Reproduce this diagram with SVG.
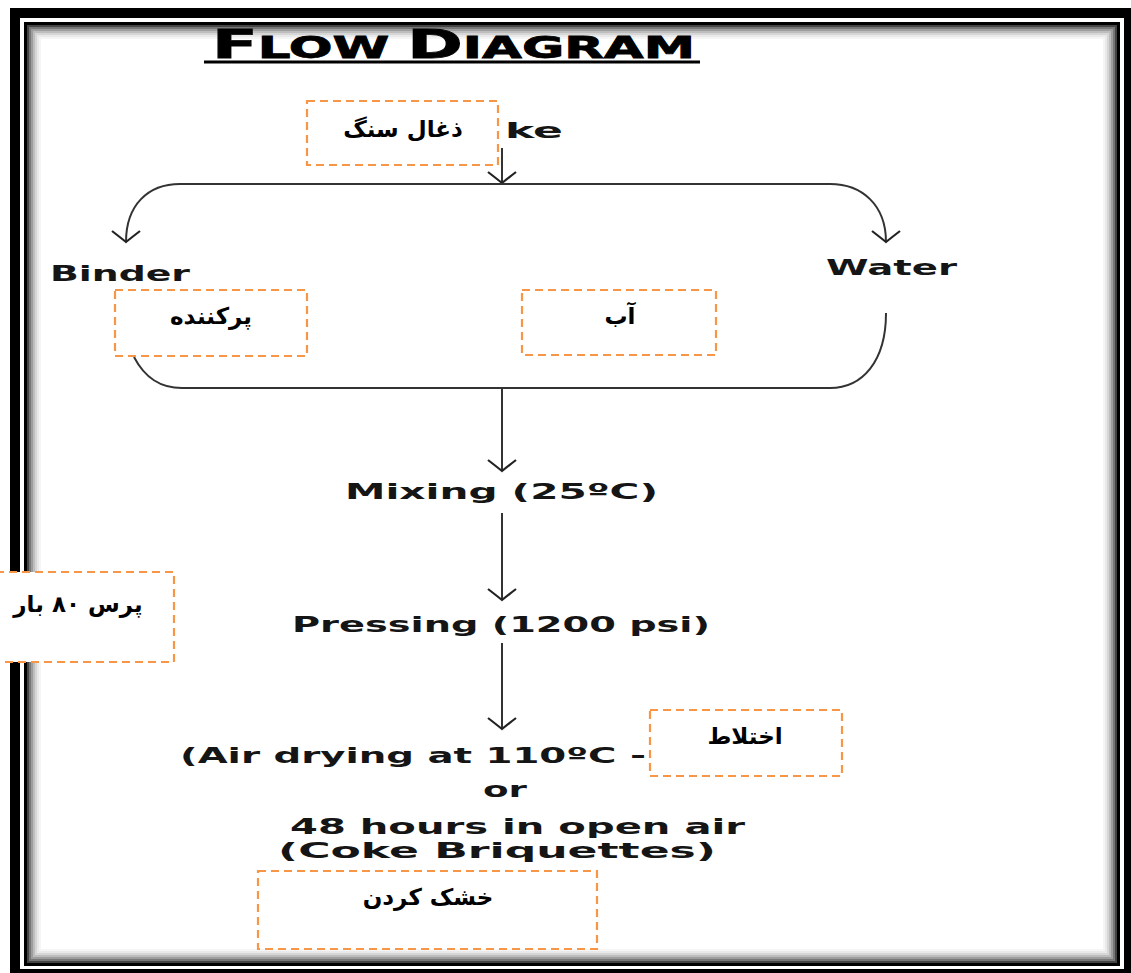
<svg xmlns="http://www.w3.org/2000/svg" width="1131" height="973" viewBox="0 0 1131 973">
<style>
.en{font-family:"DejaVu Sans","Liberation Sans",sans-serif;font-weight:bold;fill:#151515;font-size:21px}
.fa{font-family:"DejaVu Sans","Liberation Sans",sans-serif;font-weight:bold;fill:#000;font-size:23px;text-anchor:middle}
.box{fill:#fff;stroke:#f79646;stroke-width:2.2;stroke-dasharray:8 5}
.con{fill:none;stroke:#333;stroke-width:2}
.sh{fill:none}
</style>
<defs>
<marker id="ah" markerUnits="userSpaceOnUse" markerWidth="24" markerHeight="34" refX="20" refY="17" orient="auto" viewBox="0 0 24 34">
<path d="M 9 3 Q 16 12 20 17 Q 16 22 9 31" fill="none" stroke="#222" stroke-width="2.2"/>
</marker>
</defs>
<rect width="1131" height="973" fill="#fff"/>
<g id="frame">
<rect x="10" y="8" width="1125" height="970" fill="#000"/>
<rect x="20" y="18" width="1104" height="951" fill="#fff"/>
<rect x="24" y="22" width="1096" height="944" fill="#000"/>
<rect x="27" y="25" width="1090" height="938" fill="#fff"/>
<rect class="sh" x="28" y="26" width="1088" height="936" stroke="#444" stroke-width="2"/>
<rect class="sh" x="30" y="28" width="1084" height="932" stroke="#777" stroke-width="2"/>
<rect class="sh" x="32" y="30" width="1080" height="928" stroke="#9d9d9d" stroke-width="2"/>
<rect class="sh" x="34" y="32" width="1076" height="924" stroke="#bdbdbd" stroke-width="2"/>
<rect class="sh" x="36" y="34" width="1072" height="920" stroke="#d6d6d6" stroke-width="2"/>
<rect class="sh" x="38" y="36" width="1068" height="916" stroke="#e9e9e9" stroke-width="2"/>
<rect class="sh" x="40" y="38" width="1064" height="912" stroke="#f5f5f5" stroke-width="2"/>
</g>
<g id="title">
<text class="en" x="212" y="58" textLength="483" lengthAdjust="spacingAndGlyphs" style="font-size:30px;fill:#000;stroke:#000;stroke-width:0.8"><tspan style="font-size:39px">F</tspan>LOW <tspan style="font-size:39px">D</tspan>IAGRAM</text>
<line x1="204" y1="62" x2="700" y2="62" stroke="#000" stroke-width="3"/>
</g>
<g id="labels">
<text id="coke" class="en" x="505" y="138" textLength="58" lengthAdjust="spacingAndGlyphs">ke</text>
<text id="binder" class="en" x="50" y="281" textLength="140" lengthAdjust="spacingAndGlyphs">Binder</text>
<text id="water" class="en" x="826" y="275" textLength="131" lengthAdjust="spacingAndGlyphs">Water</text>
<text id="mixing" class="en" x="345" y="499" textLength="313" lengthAdjust="spacingAndGlyphs">Mixing (25ºC)</text>
<text id="pressing" class="en" x="292" y="632" textLength="418" lengthAdjust="spacingAndGlyphs">Pressing (1200 psi)</text>
<text id="drying" class="en" x="180" y="763" textLength="466" lengthAdjust="spacingAndGlyphs">(Air drying at 110ºC -</text>
<text id="or" class="en" x="483" y="797" textLength="44" lengthAdjust="spacingAndGlyphs">or</text>
<text id="hours" class="en" x="290" y="834" textLength="455" lengthAdjust="spacingAndGlyphs">48 hours in open air</text>
<text id="briq" class="en" x="278" y="858" textLength="438" lengthAdjust="spacingAndGlyphs">(Coke Briquettes)</text>
</g>
<g id="connectors">
<path class="con" d="M 502 148 V 183" marker-end="url(#ah)"/>
<path class="con" d="M 180 184 H 830"/>
<path class="con" d="M 180 184 C 148 184 126 205 126 242" marker-end="url(#ah)"/>
<path class="con" d="M 830 184 C 862 184 886 205 886 242" marker-end="url(#ah)"/>
<path class="con" d="M 134 357 C 145 378 160 388 182 388 H 830 C 862 388 886 362 886 313"/>
<path class="con" d="M 502 388 V 471" marker-end="url(#ah)"/>
<path class="con" d="M 502 513 V 600" marker-end="url(#ah)"/>
<path class="con" d="M 502 643 V 729" marker-end="url(#ah)"/>
</g>
<g id="n-coal">
<rect class="box" x="307" y="101" width="191" height="64"/>
<text class="fa" x="403" y="137">ذغال سنگ</text>
</g>
<g id="n-filler">
<rect class="box" x="115" y="290" width="192" height="66"/>
<text class="fa" x="211" y="324">پرکننده</text>
</g>
<g id="n-water">
<rect class="box" x="522" y="290" width="194" height="65"/>
<text class="fa" x="620" y="324">آب</text>
</g>
<g id="n-press">
<rect class="box" x="-4" y="572" width="178" height="90"/>
<text class="fa" x="78" y="612">پرس ۸۰ بار</text>
</g>
<g id="n-mix">
<rect class="box" x="650" y="710" width="192" height="66"/>
<text class="fa" x="745" y="744">اختلاط</text>
</g>
<g id="n-dry">
<rect class="box" x="258" y="871" width="339" height="78"/>
<text class="fa" x="428" y="905">خشک کردن</text>
</g>
</svg>
